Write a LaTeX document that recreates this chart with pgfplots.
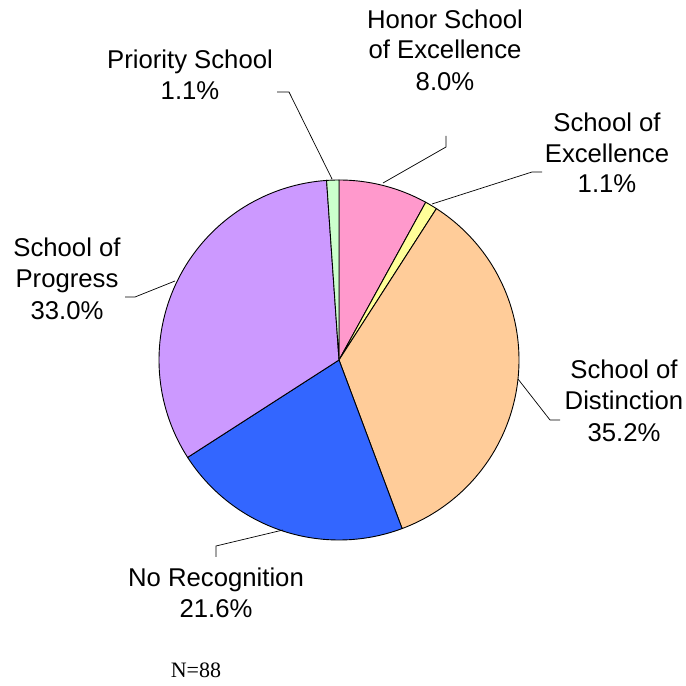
\documentclass[border=0pt]{standalone}
\usepackage{pgfplots}
\pgfplotsset{compat=1.18}
\usepackage{fontspec}
\setmainfont{Liberation Sans}
\newfontfamily\timesfont{Liberation Serif}
\definecolor{cpink}{HTML}{FF99CC}
\definecolor{cyellow}{HTML}{FFFF99}
\definecolor{cpeach}{HTML}{FFCC99}
\definecolor{cblue}{HTML}{3366FF}
\definecolor{cpurple}{HTML}{CC99FF}
\definecolor{cgreen}{HTML}{CCFFCC}
\newcommand\lab{\fontsize{25.7bp}{31bp}\selectfont}
\begin{document}
\begin{tikzpicture}
\begin{axis}[
  width=686bp, height=686bp, scale only axis,
  xmin=0, xmax=686, ymin=0, ymax=686,
  hide axis, clip=false,
]
% Shares (percent): Honor 8.0, Excellence 1.1, Distinction 35.2,
% No Recognition 21.6, Progress 33.0, Priority 1.1 ; start at 90 deg, clockwise
% angle boundaries: 90, 61.2, 57.24, -69.48, -147.24, -266.04, -270
\addplot[draw=black, line width=0.9bp, fill=cpink, domain=61.2:90, samples=40, variable=\t]
  ({339+180*cos(\t)},{326+180*sin(\t)}) -- (axis cs:339,326) -- cycle;
\addplot[draw=black, line width=0.9bp, fill=cyellow, domain=57.24:61.2, samples=8, variable=\t]
  ({339+180*cos(\t)},{326+180*sin(\t)}) -- (axis cs:339,326) -- cycle;
\addplot[draw=black, line width=0.9bp, fill=cpeach, domain=-69.48:57.24, samples=120, variable=\t]
  ({339+180*cos(\t)},{326+180*sin(\t)}) -- (axis cs:339,326) -- cycle;
\addplot[draw=black, line width=0.9bp, fill=cblue, domain=-147.24:-69.48, samples=80, variable=\t]
  ({339+180*cos(\t)},{326+180*sin(\t)}) -- (axis cs:339,326) -- cycle;
\addplot[draw=black, line width=0.9bp, fill=cpurple, domain=-266.04:-147.24, samples=120, variable=\t]
  ({339+180*cos(\t)},{326+180*sin(\t)}) -- (axis cs:339,326) -- cycle;
\addplot[draw=black, line width=0.9bp, fill=cgreen, domain=-270:-266.04, samples=8, variable=\t]
  ({339+180*cos(\t)},{326+180*sin(\t)}) -- (axis cs:339,326) -- cycle;
% leader lines
\addplot[black, line width=0.7bp] coordinates {(277,594) (289,594) (332,507)};
\addplot[black, line width=0.7bp] coordinates {(446,550) (446,539) (383,503)};
\addplot[black, line width=0.7bp] coordinates {(542,514) (532,514) (432,482)};
\addplot[black, line width=0.7bp] coordinates {(518,307) (550,266) (560,266)};
\addplot[black, line width=0.7bp] coordinates {(283,156) (216,140) (216,129)};
\addplot[black, line width=0.7bp] coordinates {(175,405) (135,389) (125,389)};
% labels
\node[anchor=base, font=\lab, inner sep=0] at (axis cs:190,617) {Priority School};
\node[anchor=base, font=\lab, inner sep=0] at (axis cs:190,586) {1.1\%};
\node[anchor=base, font=\lab, inner sep=0] at (axis cs:445,657) {Honor School};
\node[anchor=base, font=\lab, inner sep=0] at (axis cs:445,627) {of Excellence};
\node[anchor=base, font=\lab, inner sep=0] at (axis cs:445,595) {8.0\%};
\node[anchor=base, font=\lab, inner sep=0] at (axis cs:607,554) {School of};
\node[anchor=base, font=\lab, inner sep=0] at (axis cs:607,523) {Excellence};
\node[anchor=base, font=\lab, inner sep=0] at (axis cs:607,493) {1.1\%};
\node[anchor=base, font=\lab, inner sep=0] at (axis cs:624,307) {School of};
\node[anchor=base, font=\lab, inner sep=0] at (axis cs:624,276) {Distinction};
\node[anchor=base, font=\lab, inner sep=0] at (axis cs:624,244) {35.2\%};
\node[anchor=base, font=\lab, inner sep=0] at (axis cs:216,99) {No Recognition};
\node[anchor=base, font=\lab, inner sep=0] at (axis cs:216,68) {21.6\%};
\node[anchor=base, font=\lab, inner sep=0] at (axis cs:67,429) {School of};
\node[anchor=base, font=\lab, inner sep=0] at (axis cs:67,398) {Progress};
\node[anchor=base, font=\lab, inner sep=0] at (axis cs:67,366) {33.0\%};
\node[anchor=base, font=\timesfont\fontsize{22bp}{26bp}\selectfont, inner sep=0] at (axis cs:196,8) {N=88};
\path (rel axis cs:0,0) rectangle (rel axis cs:1,1);
\end{axis}
\end{tikzpicture}
\end{document}
